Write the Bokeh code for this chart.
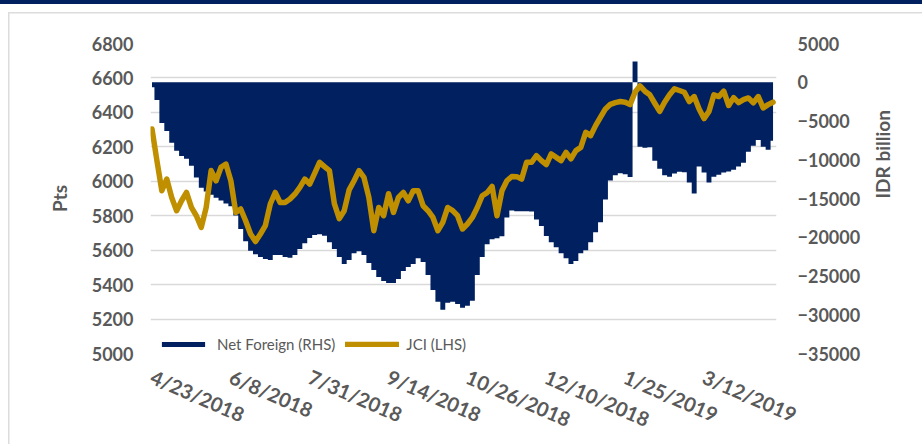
import math
from bokeh.plotting import figure
from bokeh.models import (Range1d, LinearAxis, FixedTicker, Legend, LegendItem,
                          ColumnDataSource)
from bokeh.embed import file_html
from bokeh.resources import INLINE

# ---------------- data ----------------
# trading-day index (every 2nd trading day sampled), 4/23/2018 = day 0
days = list(range(0, 254, 2))

net_foreign = [
    -640, -2300, -5250, -6280, -7800, -8850, -9500, -9870, -10770, -12300,
    -13600, -14100, -14500, -14900, -15250, -15640, -16000, -17200, -18950, -20500,
    -21750, -22200, -22560, -22800, -22950, -22300, -22300, -22560, -22630, -22300,
    -21500, -20770, -20100, -19700, -19600, -19800, -20640, -21500, -22560, -23460,
    -22950, -22050, -21800, -22300, -23330, -24230, -25130, -25640, -25900, -25900,
    -25380, -24360, -23850, -23460, -22700, -23200, -24870, -26800, -28330, -29360,
    -28460, -28330, -28600, -29100, -28850, -28200, -24870, -22560, -20900, -20250,
    -20130, -19870, -17440, -16540, -16630, -16630, -16630, -16670, -17700, -18550,
    -19830, -20640, -21280, -22050, -22700, -23460, -23080, -22050, -21670, -20640,
    -19360, -18080, -15130, -12690, -11990, -11730, -11860, -12240, 2690, -8330,
    -8460, -8400, -10130, -11150, -11990, -12180, -11790, -11540, -11600, -12950,
    -14360, -10860, -11660, -12950, -12180, -11920, -11660, -11500, -11280, -10860,
    -10380, -8970, -8200, -7440, -8330, -8720, -7560,
]

jci = [
    6304, 6120, 5945, 6013, 5906, 5829, 5887, 5935, 5848, 5800,
    5732, 5848, 6062, 6003, 6081, 6100, 6003, 5819, 5839, 5771,
    5694, 5650, 5694, 5742, 5868, 5935, 5877, 5877, 5897, 5926,
    5965, 6013, 5984, 6046, 6110, 6085, 6062, 5870, 5783, 5829,
    5950, 6003, 6062, 6023, 5906, 5713, 5848, 5800, 5928, 5819,
    5906, 5935, 5887, 5945, 5945, 5858, 5829, 5790, 5713, 5761,
    5848, 5830, 5800, 5723, 5752, 5790, 5848, 5916, 5934, 5970,
    5800, 5945, 6003, 6028, 6027, 6013, 6110, 6110, 6149, 6120,
    6097, 6159, 6139, 6120, 6168, 6130, 6178, 6197, 6284, 6265,
    6323, 6372, 6420, 6447, 6457, 6463, 6459, 6445, 6517, 6554,
    6523, 6502, 6453, 6406, 6459, 6502, 6537, 6527, 6517, 6463,
    6492, 6420, 6364, 6406, 6502, 6492, 6523, 6440, 6486, 6457,
    6474, 6484, 6455, 6492, 6426, 6445, 6459,
]

tick_days = [0, 32, 64, 96, 128, 160, 192, 224]
tick_labels = ["4/23/2018", "6/8/2018", "7/31/2018", "9/14/2018",
               "10/26/2018", "12/10/2018", "1/25/2019", "3/12/2019"]

lhs_ticks = list(range(5000, 6801, 200))
rhs_ticks = list(range(-35000, 5001, 5000))

# ---------------- style ----------------
NAVY = "#002060"
GOLD = "#BF8F00"
TXT = "#595959"
FONT = "Lato"
W, H = 922, 444

src = ColumnDataSource(dict(day=days, net=net_foreign, jci=jci))

p = figure(width=W, height=H, output_backend="svg", toolbar_location=None,
           x_range=Range1d(-0.6, 253.4), y_range=Range1d(5000, 6800),
           min_border_left=150, min_border_right=146,
           min_border_top=43, min_border_bottom=89)
p.outline_line_color = None
p.background_fill_color = "white"
p.border_fill_alpha = 0
# page decorations behind the transparent border area:
# navy strip at the very top and a light grey card outline
p.styles = {
    "background": (
        "linear-gradient(#002060, #002060) 0px 0px / 100% 4px no-repeat, "
        "linear-gradient(#DCDCDC, #DCDCDC) 8px 12px / 100% 1.5px no-repeat, "
        "linear-gradient(#DCDCDC, #DCDCDC) 8px 12px / 1.5px 100% no-repeat, "
        "white"
    )
}

p.extra_y_ranges = {"rhs": Range1d(-35000, 5000)}

try:
    bars = p.varea_step(x="day", y1=0, y2="net", step_mode="center", source=src,
                        y_range_name="rhs", fill_color=NAVY)
except Exception:
    bars = p.vbar(x="day", width=2.3, top="net", bottom=0, source=src,
                  y_range_name="rhs", fill_color=NAVY, line_color=None)
line = p.line(x="day", y="jci", source=src, line_color=GOLD, line_width=5.5,
              line_join="round", line_cap="round")

# grid
p.xgrid.grid_line_color = None
p.ygrid.grid_line_color = "#D9D9D9"
p.ygrid.grid_line_width = 1.5
p.ygrid.ticker = FixedTicker(ticks=lhs_ticks)

def style_axis(ax, size="18px"):
    ax.axis_line_color = None
    ax.major_tick_line_color = None
    ax.minor_tick_line_color = None
    ax.major_tick_out = 0
    ax.major_tick_in = 0
    ax.minor_tick_out = 0
    ax.minor_tick_in = 0
    ax.major_label_text_font = FONT
    ax.major_label_text_font_style = "bold"
    ax.major_label_text_font_size = size
    ax.major_label_text_color = TXT
    ax.axis_label_text_font = FONT
    ax.axis_label_text_font_style = "bold"
    ax.axis_label_text_font_size = "19px"
    ax.axis_label_text_color = TXT

# left axis
lax = p.yaxis[0]
lax.ticker = FixedTicker(ticks=lhs_ticks)
lax.axis_label = "Pts"
style_axis(lax)
lax.major_label_standoff = 17
lax.axis_label_standoff = 18

# right axis
rax = LinearAxis(y_range_name="rhs", ticker=FixedTicker(ticks=rhs_ticks),
                 axis_label="IDR billion")
style_axis(rax)
rax.major_label_standoff = 21
rax.axis_label_standoff = 19
try:
    rax.axis_label_orientation = math.pi / 2
except Exception:
    pass
p.add_layout(rax, "right")

# x axis
xax = p.xaxis[0]
xax.ticker = FixedTicker(ticks=tick_days)
xax.major_label_overrides = {d: lab for d, lab in zip(tick_days, tick_labels)}
style_axis(xax, size="20px")
xax.major_label_orientation = -0.41
xax.major_label_standoff = 22

# legend
legend = Legend(items=[LegendItem(label="Net Foreign (RHS)", renderers=[bars]),
                       LegendItem(label="JCI (LHS)", renderers=[line])],
                orientation="horizontal", location=(6, 0))
legend.background_fill_alpha = 0
legend.border_line_alpha = 0
legend.padding = 0
legend.margin = 0
legend.spacing = 10
legend.glyph_width = 54
legend.glyph_height = 6
legend.label_height = 14
legend.label_standoff = 7
legend.label_text_font = FONT
legend.label_text_font_size = "15px"
legend.label_text_color = TXT
p.add_layout(legend, "center")

open("out.html", "w").write(file_html(p, INLINE))
